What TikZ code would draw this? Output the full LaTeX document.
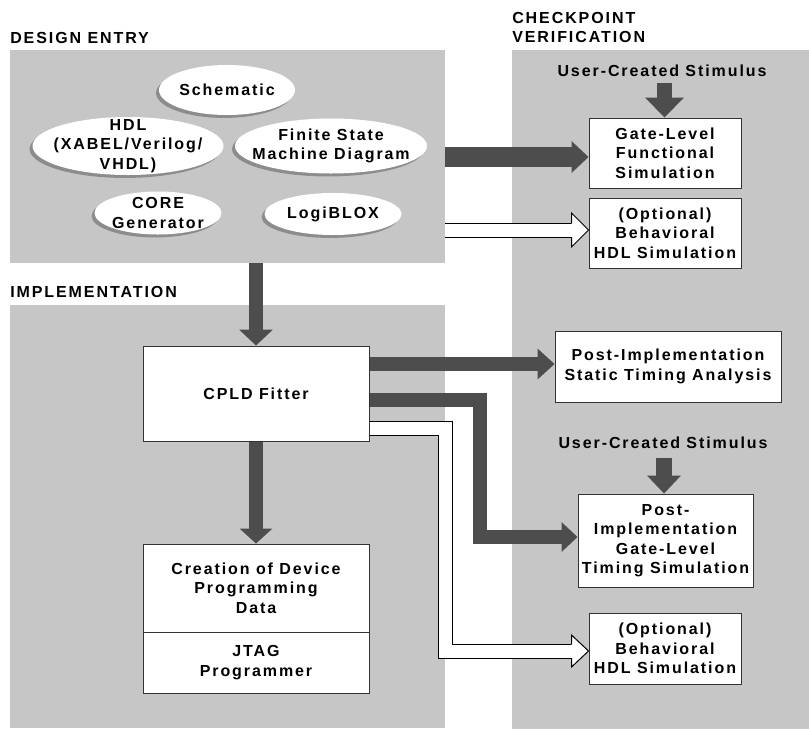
\documentclass[tikz,border=0pt]{standalone}
\usepackage{fontspec}
\setmainfont{Liberation Sans}[LetterSpace=12]
\usetikzlibrary{shapes.geometric,shadows,calc}
\definecolor{panelgray}{HTML}{C6C6C6}
\definecolor{arrowdark}{HTML}{4D4D4D}
\definecolor{shadowgray}{HTML}{8C8C8C}
\definecolor{boxline}{HTML}{333333}
\tikzset{
  txt/.style={font=\fontsize{12}{14.6}\selectfont\bfseries, align=center, text=black},
  panel/.style={rectangle, fill=panelgray, draw=none, inner sep=0pt},
  oval/.style={ellipse, fill=white, draw=none, inner sep=0pt,
    drop shadow={shadow xshift=-2.2pt, shadow yshift=-2.2pt, fill=shadowgray, opacity=1}},
  box/.style={rectangle, fill=white, draw=boxline, line width=0.75pt, inner sep=0pt, txt},
  heading/.style={txt, align=left, inner sep=0pt},
  label/.style={txt, inner sep=0pt},
  darkshaft/.style={draw=arrowdark, line cap=butt, line join=miter},
  whiteshaft/.style={draw=black, double=white, line width=0.75pt, double distance=9.75pt, line join=miter, line cap=butt},
  whitehead/.style={fill=white, draw=black, line width=0.75pt, line join=miter},
}
% right-pointing dark head: tip, length, half width
\newcommand\darkheadR[3]{\fill[arrowdark] (#1) -- ++(-#2,-#3) -- ++(0,2*#3) -- cycle;}
% down-pointing dark head: tip, length, half width
\newcommand\darkheadD[3]{\fill[arrowdark] (#1) -- ++(-#3,-#2) -- ++(2*#3,0) -- cycle;}
% right-pointing white head: tip, length, half width, half shaft
\newcommand\whiteheadR[4]{\filldraw[whitehead] ($(#1)+(-#2,-#4)$) -- ($(#1)+(-#2,-#3)$) -- (#1) -- ($(#1)+(-#2,#3)$) -- ($(#1)+(-#2,#4)$);}
\begin{document}
\begin{tikzpicture}[x=0.75pt,y=-0.75pt]
\useasboundingbox (0,0) rectangle (809,729);

% panels
\node[panel, minimum width=326.25pt, minimum height=159.75pt] (de) at (227.5,156.5) {};
\node[panel, minimum width=326.25pt, minimum height=317.25pt] (impl) at (227.5,516.5) {};
\node[panel, minimum width=222.75pt, minimum height=509.25pt] (cv) at (660.5,389.5) {};

% headings
\node[heading, anchor=base west] (hde) at (10,43.3) {DESIGN ENTRY};
\node[heading, anchor=base west] (himpl) at (10,297.3) {IMPLEMENTATION};
\node[heading, anchor=north west] (hcv) at (512,11.7) {CHECKPOINT\\VERIFICATION};

% design entry ovals
\node[oval, minimum width=102pt, minimum height=37.5pt] (sch) at (227,90) {};
\node[label] (scht) at (sch.center) {Schematic};
\node[oval, minimum width=143.25pt, minimum height=43.5pt] (hdl) at (128,146) {};
\node[label] (hdlt) at (hdl.center) {HDL\\(XABEL/Verilog/\\VHDL)};
\node[oval, minimum width=144pt, minimum height=41.25pt] (fsm) at (331,146) {};
\node[label] (fsmt) at (fsm.center) {Finite State\\Machine Diagram};
\node[oval, minimum width=95.25pt, minimum height=32.25pt] (core) at (158,213) {};
\node[label] (coret) at (core.center) {CORE\\Generator};
\node[oval, minimum width=102.75pt, minimum height=31.5pt] (logi) at (333,214) {};
\node[label] (logit) at (logi.center) {LogiBLOX};

% checkpoint boxes
\node[label] (stim1) at (662,71) {User-Created Stimulus};
\node[box, minimum width=114pt, minimum height=52.5pt] (gate) at (665,153) {Gate-Level\\Functional\\Simulation};
\node[box, minimum width=114pt, minimum height=52.5pt] (opt1) at (665,233) {(Optional)\\Behavioral\\HDL Simulation};
\node[box, minimum width=169.5pt, minimum height=53.25pt] (sta) at (668,366.5) {Post-Implementation\\Static Timing Analysis};
\node[label] (stim2) at (663,443) {User-Created Stimulus};
\node[box, minimum width=131.25pt, minimum height=69.75pt] (pigl) at (665.5,540.5) {Post-\\Implementation\\Gate-Level\\Timing Simulation};
\node[box, minimum width=114pt, minimum height=53.25pt] (opt2) at (665,648.5) {(Optional)\\Behavioral\\HDL Simulation};

% implementation boxes
\node[box, minimum width=169.5pt, minimum height=71.25pt] (cpld) at (256,393.5) {CPLD Fitter};
\node[box, minimum width=169.5pt, minimum height=66pt] (create) at (256,588) {Creation of Device\\Programming\\Data};
\node[box, minimum width=169.5pt, minimum height=45.75pt] (jtag) at (256,662.5) {JTAG\\Programmer};

% ---- connectors ----
% design entry -> gate-level functional simulation
\coordinate (tA) at (gate.west |- 0,157);
\draw[darkshaft, line width=15pt] (de.east |- tA) -- ($(tA)+(-17,0)$);
\darkheadR{tA}{17}{16}

% design entry -> optional behavioral (white)
\coordinate (tW1) at (opt1.west |- 0,230);
\draw[whiteshaft] (de.east |- tW1) -- ($(tW1)+(-17,0)$);
\whiteheadR{tW1}{17}{17}{7}

% design entry -> CPLD fitter
\coordinate (tB) at (cpld.north);
\draw[darkshaft, line width=10pt] (de.south -| tB) -- ($(tB)+(0,-16)$);
\darkheadD{tB}{16}{17}

% CPLD -> creation
\coordinate (tC) at (create.north);
\draw[darkshaft, line width=10pt] (cpld.south) -- ($(tC)+(0,-15)$);
\darkheadD{tC}{15}{16.5}

% CPLD -> static timing analysis
\coordinate (tD) at (sta.west |- 0,364);
\draw[darkshaft, line width=10.5pt] (cpld.east |- tD) -- ($(tD)+(-17,0)$);
\darkheadR{tD}{17}{15.5}

% CPLD -> post-implementation gate-level timing simulation
\coordinate (tE) at (pigl.west |- 0,537);
\draw[darkshaft, line width=10.5pt] (cpld.east |- 0,399.5) -- (479.5,399.5) -- (479.5,537) -- ($(tE)+(-16,0)$);
\darkheadR{tE}{16}{15}

% CPLD -> optional behavioral (white)
\coordinate (tW2) at (opt2.west |- 0,651);
\draw[whiteshaft] (cpld.east |- 0,428.5) -- (445.5,428.5) -- (445.5,651) -- ($(tW2)+(-17,0)$);
\whiteheadR{tW2}{17}{16}{7}

% stimulus arrows
\coordinate (tS1) at (gate.north -| 664.5,0);
\draw[darkshaft, line width=11.25pt] (664.5,83) -- ($(tS1)+(0,-20)$);
\darkheadD{tS1}{20}{19.5}

\coordinate (tS2) at (pigl.north -| 664,0);
\draw[darkshaft, line width=12pt] (664,458) -- ($(tS2)+(0,-18)$);
\darkheadD{tS2}{18}{17}
\end{tikzpicture}
\end{document}
